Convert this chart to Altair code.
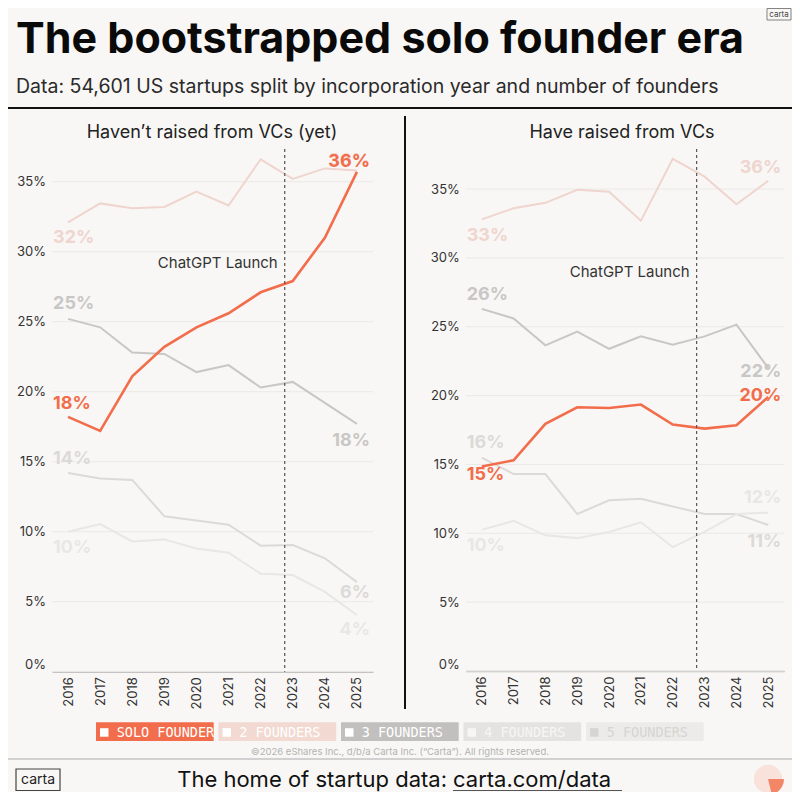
import altair as alt
import pandas as pd

# ---------------- data ----------------
YEARS = [2016, 2017, 2018, 2019, 2020, 2021, 2022, 2023, 2024, 2025]
SERIES = ["SOLO FOUNDER", "2 FOUNDERS", "3 FOUNDERS", "4 FOUNDERS", "5 FOUNDERS"]

# share of startups (%) - haven't raised from VCs (yet)
NOT_RAISED_SOLO = [18.2, 17.2, 21.1, 23.2, 24.6, 25.6, 27.1, 27.9, 31.0, 35.7]
NOT_RAISED_2 = [32.1, 33.45, 33.1, 33.2, 34.3, 33.3, 36.6, 35.2, 35.95, 35.8]
NOT_RAISED_3 = [25.2, 24.6, 22.8, 22.7, 21.4, 21.9, 20.3, 20.7, 19.2, 17.7]
NOT_RAISED_4 = [14.2, 13.8, 13.7, 11.1, 10.8, 10.5, 9.0, 9.05, 8.1, 6.4]
NOT_RAISED_5 = [10.0, 10.55, 9.3, 9.45, 8.8, 8.5, 7.0, 6.9, 5.7, 4.05]

# share of startups (%) - have raised from VCs
RAISED_SOLO = [14.85, 15.3, 17.95, 19.15, 19.1, 19.35, 17.9, 17.6, 17.85, 19.9]
RAISED_2 = [32.8, 33.6, 34.0, 34.95, 34.8, 32.7, 37.2, 35.9, 33.9, 35.6]
RAISED_3 = [26.3, 25.6, 23.65, 24.65, 23.4, 24.3, 23.7, 24.3, 25.15, 22.0]
RAISED_4 = [15.5, 14.3, 14.3, 11.4, 12.4, 12.5, 11.95, 11.4, 11.4, 10.6]
RAISED_5 = [10.25, 10.9, 9.85, 9.65, 10.1, 10.8, 9.0, 10.1, 11.4, 11.5]

Y_TICKS = [0, 5, 10, 15, 20, 25, 30, 35]
CHATGPT_LAUNCH = 2022.75

TITLE = "The bootstrapped solo founder era"
SUBTITLE = "Data: 54,601 US startups split by incorporation year and number of founders"
PANEL_TITLES = ["Haven\u2019t raised from VCs (yet)", "Have raised from VCs"]
CHATGPT_TEXT = "ChatGPT Launch"
COPYRIGHT = "\u00a92026 eShares Inc., d/b/a Carta Inc. (\u201cCarta\u201d). All rights reserved."
FOOTER_TEXT = "The home of startup data:"
FOOTER_LINK = "carta.com/data"
LOGO_TEXT = "carta"

# ---------------- style ----------------
W, H = 784, 784
BG = "#f8f7f5"
FONT = "Inter"
MONO = "DejaVu Sans Mono"
YMAX = 37.5
LINE_COLORS = ["#f26d4b", "#efd5ce", "#c9c7c5", "#dcdad8", "#e8e7e5"]
BOX_COLORS = ["#f26d4b", "#f2d9d1", "#c2c0be", "#e4e3e1", "#ecebe9"]
BOX_TEXT = ["#ffffff", "#ffffff", "#ffffff", "#f7f6f4", "#d6d5d3"]

# pixel nudges of the start / end value labels (solo, 2, 3, 4, 5 founders); + is down
NUDGE = {
    ("left", "start"): [-13, 16, -15, -14, 16],
    ("left", "end"): [-10, -10, 17, 11, 15],
    ("right", "start"): [8, 17, -14, -15, 16],
    ("right", "end"): [-1, -13, 4, 17, -15],
}

ONE = pd.DataFrame({"k": [0]})
COLOR = alt.Color("series:N", scale=alt.Scale(domain=SERIES, range=LINE_COLORS), legend=None)


def text_at(text, x, y, **kw):
    return alt.Chart(ONE).mark_text(text=text, **kw).encode(x=alt.value(x), y=alt.value(y))


def rule_at(x, x2, y, y2, **kw):
    return alt.Chart(ONE).mark_rule(**kw).encode(
        x=alt.value(x), x2=alt.value(x2), y=alt.value(y), y2=alt.value(y2)
    )


def panel(values, side, xr, y0, px_per_unit, title_x, chatgpt_y):
    df = pd.DataFrame(
        [
            {"year": yv, "series": s, "value": v}
            for s, vals in zip(SERIES, values)
            for yv, v in zip(YEARS, vals)
        ]
    )
    yr = [y0, y0 - YMAX * px_per_unit]
    xs = alt.Scale(domain=[2015.5, 2025.5], range=xr, nice=False, zero=False)
    ys = alt.Scale(domain=[0, YMAX], range=yr, nice=False, zero=False)
    x_axis = alt.Axis(
        orient="bottom", offset=-(H - y0), values=YEARS, format="d", labelAngle=270,
        grid=False, ticks=False, domainColor="#bdbbb9", domainWidth=1.5,
        labelFont=FONT, labelFontSize=13, labelColor="#333333", labelPadding=5,
        title=None, labelOverlap=False,
    )
    y_axis = alt.Axis(
        orient="left", offset=-xr[0], values=Y_TICKS, labelExpr="datum.value + '%'",
        grid=False, ticks=False, domain=False, labelFlush=True,
        labelFont=FONT, labelFontSize=13, labelColor="#333333", labelPadding=6.5,
        title=None,
    )
    grid = alt.Chart(pd.DataFrame({"v": Y_TICKS})).mark_rule(
        color="#ebe9e7", strokeWidth=1
    ).encode(
        y=alt.Y("v:Q", scale=ys, axis=None),
        x=alt.XDatum(2015.5, scale=xs, axis=None, type="quantitative"),
        x2=alt.X2Datum(2025.5),
    )

    others = alt.Chart(df).transform_filter(
        alt.datum.series != SERIES[0]
    ).mark_line(strokeWidth=2).encode(
        x=alt.X("year:Q", scale=xs, axis=x_axis),
        y=alt.Y("value:Q", scale=ys, axis=y_axis),
        color=COLOR,
    )
    solo = alt.Chart(df).transform_filter(
        alt.datum.series == SERIES[0]
    ).mark_line(strokeWidth=2.6).encode(
        x=alt.X("year:Q", scale=xs, axis=None),
        y=alt.Y("value:Q", scale=ys, axis=None),
        color=COLOR,
    )

    def labels(which, idx, align, dx):
        rows = []
        for i, (s, vals) in enumerate(zip(SERIES, values)):
            v = vals[idx]
            rows.append({
                "year": YEARS[idx], "series": s, "value": v,
                "label": f"{int(v + 0.5)}%", "dy": NUDGE[(side, which)][i],
                "order": -i,
            })
        ldf = pd.DataFrame(rows).sort_values("order")
        return alt.Chart(ldf).transform_calculate(
            ly=f"datum.value - datum.dy / {px_per_unit}"
        ).mark_text(
            align=align, dx=dx, baseline="middle", font=FONT, fontWeight="bold", fontSize=18
        ).encode(
            x=alt.X("year:Q", scale=xs, axis=None),
            y=alt.Y("ly:Q", scale=ys, axis=None),
            text="label:N",
            color=COLOR,
        )

    start_lab = labels("start", 0, "left", -15)
    end_lab = labels("end", len(YEARS) - 1, "right", 13)

    launch = alt.Chart(ONE).mark_rule(
        strokeDash=[3, 3], color="#555555", strokeWidth=1.2
    ).encode(
        x=alt.XDatum(CHATGPT_LAUNCH, scale=xs, axis=None, type="quantitative"),
        y=alt.value(141), y2=alt.value(y0),
    )
    launch_txt = alt.Chart(ONE).mark_text(
        text=CHATGPT_TEXT, align="right", dx=-7, baseline="middle",
        font=FONT, fontSize=15, color="#333333",
    ).encode(
        x=alt.XDatum(CHATGPT_LAUNCH, scale=xs, axis=None, type="quantitative"),
        y=alt.value(chatgpt_y),
    )
    title = text_at(
        PANEL_TITLES[0 if side == "left" else 1], title_x, 125,
        align="center", baseline="middle", font=FONT, fontSize=18, color="#222222",
    )
    return [grid, others, solo, start_lab, end_lab, launch, launch_txt, title]


left = panel(
    [NOT_RAISED_SOLO, NOT_RAISED_2, NOT_RAISED_3, NOT_RAISED_4, NOT_RAISED_5],
    "left", [44, 365], 663.7, 14.0, 204, 255,
)
right = panel(
    [RAISED_SOLO, RAISED_2, RAISED_3, RAISED_4, RAISED_5],
    "right", [457.8, 776.2], 663, 13.77, 614, 263.7,
)

# ---------------- header ----------------
header = [
    text_at(TITLE, 8, 45, align="left", baseline="alphabetic", font=FONT,
            fontSize=43, fontWeight="bold", color="#0a0a0a"),
    text_at(SUBTITLE, 8, 85, align="left", baseline="alphabetic", font=FONT,
            fontSize=19.5, color="#2a2a2a"),
    rule_at(0, W, 100, 100, color="#111111", strokeWidth=2),
    alt.Chart(ONE).mark_rect(fillOpacity=0, stroke="#666666", strokeWidth=0.8).encode(
        x=alt.value(759), x2=alt.value(783), y=alt.value(0.5), y2=alt.value(12)),
    text_at(LOGO_TEXT, 771, 6.5, align="center", baseline="middle", font=FONT,
            fontSize=8, color="#444444"),
    rule_at(397, 397, 108, 701, color="#111111", strokeWidth=2),
]

# ---------------- legend ----------------
leg = pd.DataFrame({"series": SERIES, "fill": BOX_COLORS, "ink": BOX_TEXT})
leg["x0"] = [88 + i * 122.5 for i in range(len(SERIES))]
leg["x1"] = leg["x0"] + 117.7
leg["sq0"] = leg["x0"] + 4
leg["sq1"] = leg["x0"] + 12.5
leg["tx"] = leg["x0"] + 20.7
legend = [
    alt.Chart(leg).mark_rect().encode(
        x=alt.X("x0:Q", scale=None), x2="x1:Q",
        y=alt.value(714.3), y2=alt.value(733),
        fill=alt.Fill("fill:N", scale=None)),
    alt.Chart(leg).mark_rect().encode(
        x=alt.X("sq0:Q", scale=None), x2="sq1:Q",
        y=alt.value(720.2), y2=alt.value(728.7),
        fill=alt.Fill("ink:N", scale=None)),
    alt.Chart(leg).mark_text(align="left", baseline="middle", font=MONO, fontSize=13.5).encode(
        x=alt.X("tx:Q", scale=None), y=alt.value(724.8),
        text="series:N", fill=alt.Fill("ink:N", scale=None)),
]

# ---------------- footer ----------------
footer = [
    text_at(COPYRIGHT, 392, 744, align="center", baseline="middle", font=FONT,
            fontSize=9.5, color="#b3b3b3"),
    rule_at(0, W, 751, 751, color="#c4c4c4", strokeWidth=1.5),
    alt.Chart(ONE).mark_rect(fillOpacity=0, stroke="#444444", strokeWidth=1.2).encode(
        x=alt.value(8), x2=alt.value(52), y=alt.value(761), y2=alt.value(782.5)),
    text_at(LOGO_TEXT, 30, 771.5, align="center", baseline="middle", font=FONT,
            fontSize=14, color="#222222"),
    text_at(FOOTER_TEXT, 439, 779, align="right", baseline="alphabetic", font=FONT,
            fontSize=22, color="#111111"),
    text_at(FOOTER_LINK, 445, 779, align="left", baseline="alphabetic", font=FONT,
            fontSize=22, color="#111111"),
    rule_at(445, 614, 782.5, 782.5, color="#555555", strokeWidth=1),
    alt.Chart(ONE).mark_point(filled=True, shape="circle", size=800, opacity=1,
                              color="#f9e2da").encode(x=alt.value(760), y=alt.value(771)),
    alt.Chart(ONE).mark_arc(radius=16, theta=1.57, theta2=2.9, color="#f27552",
                            opacity=0.85).encode(x=alt.value(760), y=alt.value(771)),
]

chart = alt.layer(*header, *left, *right, *legend, *footer).resolve_scale(
    x="independent", y="independent"
).properties(
    width=W, height=H, background=BG, padding=0,
    autosize=alt.AutoSizeParams(type="none"),
).configure_view(stroke=None)

chart.save("out.html", embed_options={"renderer": "svg", "actions": False})
